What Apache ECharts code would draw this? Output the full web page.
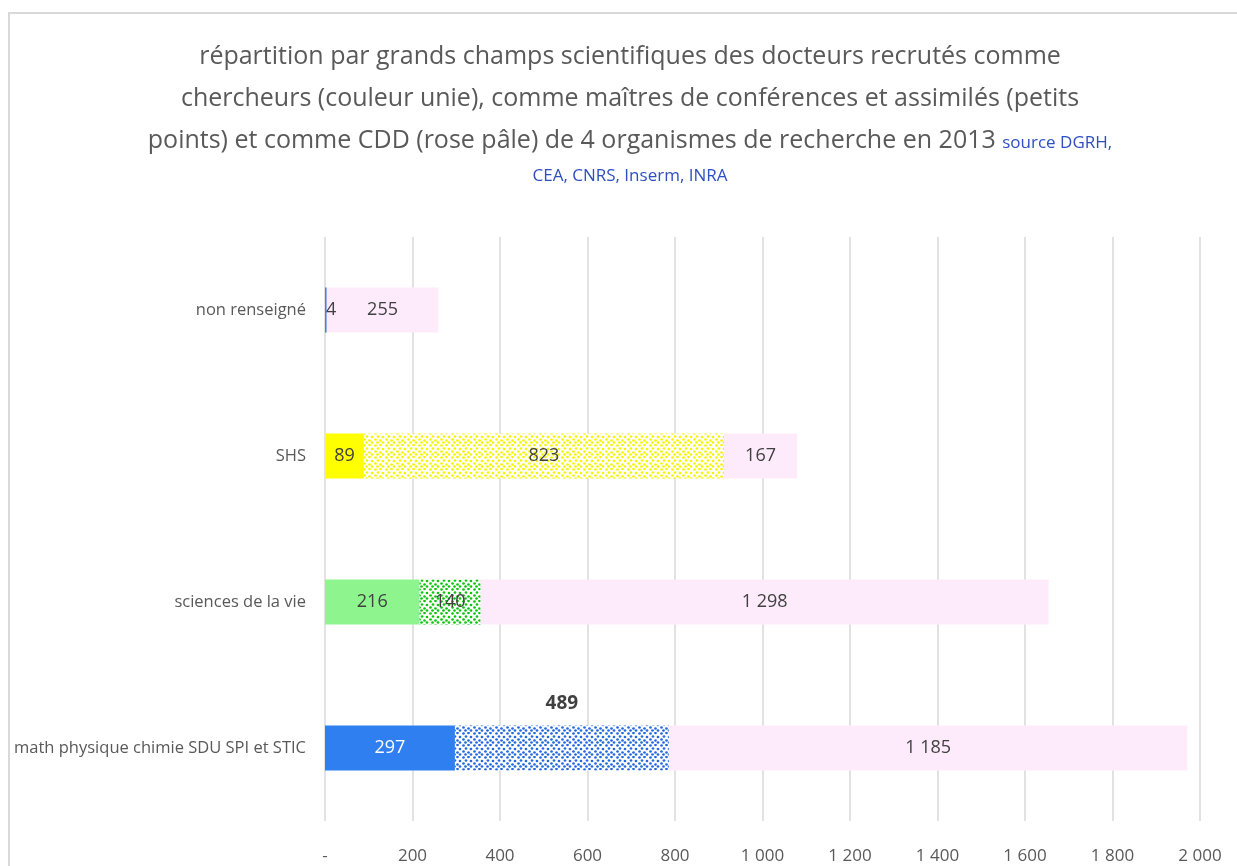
<!DOCTYPE html>
<html>
<head>
<meta charset="utf-8">
<title>répartition des docteurs recrutés 2013</title>
<script src="https://cdn.jsdelivr.net/npm/echarts@6/dist/echarts.min.js"></script>
<style>
   html, body { margin: 0; padding: 0; background: #fff; }
   #main { width: 1237px; height: 866px; }
</style>
</head>
<body>
<div id="main"></div>
<script>
(function(){
   //données (de bas en haut sur l'axe)
   var categories = [ 'math physique chimie SDU SPI et STIC', 'sciences de la vie', 'SHS', 'non renseigné' ] ;
   var chercheurs = [ 297, 216, 89, 4 ] ;
   var mcf = [ 489, 140, 823, 0 ] ;
   var cdd = [ 1185, 1298, 167, 255 ] ;
   var xTicks = [ 0, 200, 400, 600, 800, 1000, 1200, 1400, 1600, 1800, 2000 ] ;

   //couleurs par champ
   var solidColors = [ '#2f7ff0', '#8ef58e', '#ffff00', '#4a7fd8' ] ;
   var dotColors = [ '#2468e0', '#0cc40c', '#f5f500', '#2468e0' ] ;
   var pink = '#fdebfb' ;
   var font = "'Open Sans', sans-serif" ;

   //format "1 000"
   function fmt( v )
   {
      if( v == 0 ) return '-' ;
      return String( v ).replace( /\B(?=(\d{3})+(?!\d))/g, ' ' ) ;
   }

   //motif à petits points (pointillé irrégulier fixe)
   function dotPattern( color )
   {
      var pts = [ [ 1.5, 1.5 ], [ 6.5, 1 ], [ 4, 4.5 ], [ 9, 5 ], [ 1.5, 7.5 ], [ 6.5, 8.5 ], [ 3.5, 10.5 ], [ 9, 10.5 ] ] ;
      var c = document.createElement( 'canvas' ) ;
      c.width = 11 ;
      c.height = 12 ;
      var ctx = c.getContext( '2d' ) ;
      ctx.fillStyle = '#ffffff' ;
      ctx.fillRect( 0, 0, c.width, c.height ) ;
      ctx.fillStyle = color ;
      for( var k = 0; k < pts.length; ++k )
      {
         ctx.beginPath() ;
         ctx.arc( pts[k][0], pts[k][1], 1.35, 0, Math.PI * 2 ) ;
         ctx.fill() ;
      }
      return { image: c, repeat: 'repeat' } ;
   }

   var solidData = [] ;
   var dotData = [] ;
   var cddData = [] ;
   for( var i = 0; i < categories.length; ++i )
   {
      solidData.push( {
         value: chercheurs[i],
         itemStyle: { color: solidColors[i] },
         label: i == 3 ? { position: 'insideLeft', offset: [ -4, 0 ] } : { color: i == 0 ? '#ffffff' : '#404040' }
      } ) ;
      var d = { value: mcf[i], itemStyle: { color: dotPattern( dotColors[i] ) } } ;
      if( i == 0 ) d.label = { position: 'top', distance: 12, fontWeight: 'bold', fontSize: 19 } ;
      dotData.push( d ) ;
      cddData.push( { value: cdd[i] } ) ;
   }

   var labelStyle = {
      show: true,
      position: 'inside',
      color: '#404040',
      fontFamily: font,
      fontSize: 18,
      formatter: function( p ){ return p.value == 0 ? '' : fmt( p.value ) ; }
   } ;

   var titleText = '{a|répartition par grands champs scientifiques des docteurs recrutés comme}\n' +
                   '{a|chercheurs (couleur unie), comme maîtres de conférences et assimilés (petits}\n' +
                   '{a|points) et comme CDD (rose pâle) de 4 organismes de recherche en 2013 }{b|source DGRH,}\n' +
                   '{c|CEA, CNRS, Inserm, INRA}' ;

   var chart = echarts.init( document.getElementById( 'main' ) ) ;
   chart.setOption( {
      backgroundColor: '#ffffff',
      animation: false,
      graphic: [
         {
            type: 'rect',
            shape: { x: 9, y: 13, width: 1240, height: 870 },
            style: { fill: 'none', stroke: '#d9d9d9', lineWidth: 2 },
            silent: true
         },
         {
            type: 'text',
            x: 630,
            y: 36,
            style: {
               text: titleText,
               align: 'center',
               verticalAlign: 'top',
               fill: '#595959',
               rich: {
                  a: { fontSize: 25, fontFamily: font, fill: '#595959', lineHeight: 42 },
                  b: { fontSize: 17, fontFamily: font, fill: '#2e4fc0', lineHeight: 42, padding: [ 4, 0, 0, 0 ] },
                  c: { fontSize: 17, fontFamily: font, fill: '#2e4fc0', lineHeight: 28 }
               }
            },
            silent: true
         }
      ],
      grid: { left: 325, right: 37, top: 237, bottom: 45, containLabel: false },
      xAxis: {
         type: 'value',
         min: xTicks[0],
         max: xTicks[xTicks.length - 1],
         interval: xTicks[1] - xTicks[0],
         axisLine: { show: false },
         axisTick: { show: false },
         splitLine: { lineStyle: { color: '#d9d9d9', width: 1.5 } },
         axisLabel: { margin: 27, color: '#595959', fontSize: 17, fontFamily: font, formatter: fmt }
      },
      yAxis: {
         type: 'category',
         data: categories,
         axisLine: { show: false },
         axisTick: { show: false },
         axisLabel: { margin: 19, color: '#595959', fontSize: 16.5, fontFamily: font }
      },
      series: [
         { name: 'chercheurs', type: 'bar', stack: 'tot', barWidth: 45, label: labelStyle, data: solidData },
         { name: 'maîtres de conférences', type: 'bar', stack: 'tot', barWidth: 45, label: labelStyle, data: dotData },
         { name: 'CDD', type: 'bar', stack: 'tot', barWidth: 45, itemStyle: { color: pink }, label: labelStyle, data: cddData }
      ]
   } ) ;
}());
</script>
</body>
</html>
